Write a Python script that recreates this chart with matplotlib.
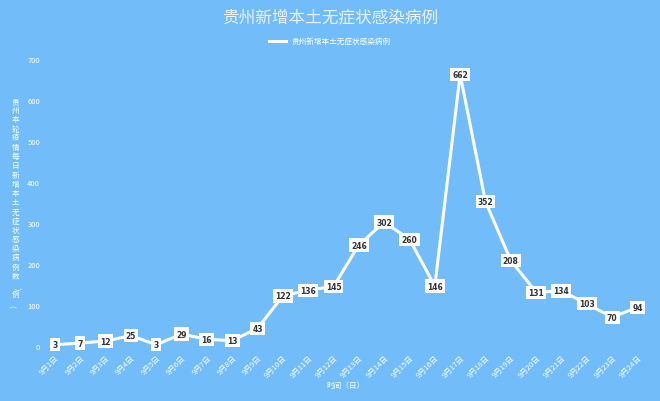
import matplotlib.pyplot as plt

plt.rcParams['font.family'] = ['Noto Sans CJK SC', 'DejaVu Sans']

days = ['9月%d日' % d for d in range(1, 25)]
cases = [3, 7, 12, 25, 3, 29, 16, 13, 43, 122, 136, 145, 246, 302, 260, 146,
         662, 352, 208, 131, 134, 103, 70, 94]
yticks = [0, 100, 200, 300, 400, 500, 600, 700]

bg = '#72bcf9'
fig = plt.figure(figsize=(6.6, 4.02), dpi=100, facecolor=bg)
ax = fig.add_axes([0.064, 0.137, 0.921, 0.714])
ax.set_facecolor(bg)

x = list(range(len(days)))
ax.plot(x, cases, color='white', lw=2.2, solid_joinstyle='miter', label='贵州新增本土无症状感染病例')
for xi, v in zip(x, cases):
    ax.text(xi, v, str(v), ha='center', va='center', fontsize=5.5, fontweight='bold',
            color='#333333', family=['DejaVu Sans'],
            bbox=dict(boxstyle='square,pad=0.28', fc='white', ec='none'))

ax.set_xlim(-0.5, len(days) - 0.5)
ax.set_ylim(0, 700)
ax.set_yticks(yticks)
ax.set_xticks(x)
ax.set_xticklabels(days, rotation=45, ha='right', rotation_mode='anchor')
ax.tick_params(axis='both', length=0, colors='white', labelsize=5.5)
ax.tick_params(axis='y', pad=1.5)
ax.tick_params(axis='x', pad=5)
for s in ax.spines.values():
    s.set_visible(False)

fig.text(0.5, 0.955, '贵州新增本土无症状感染病例', ha='center', va='center', fontsize=12, color='#e8f2fb')
leg = fig.legend(loc='center', bbox_to_anchor=(0.5, 0.895), frameon=False, fontsize=5.5,
                 handlelength=2.2, labelcolor='white')

# vertical stacked y-axis title, one character per row
ylabel = '贵州本轮疫情每日新增本土无症状感染病例数（例）'
y0 = 1 - 102 / 402
step = 9.2 / 402
for i, ch in enumerate(ylabel):
    fig.text(0.023, y0 - i * step, ch, ha='center', va='center', fontsize=5.5,
             color='white', rotation=90 if ch in '（）' else 0)
fig.text(0.524, 0.04, '时间（日）', ha='center', va='center', fontsize=5.5, color='white')

fig.savefig('out.png', dpi=100, facecolor=bg)
